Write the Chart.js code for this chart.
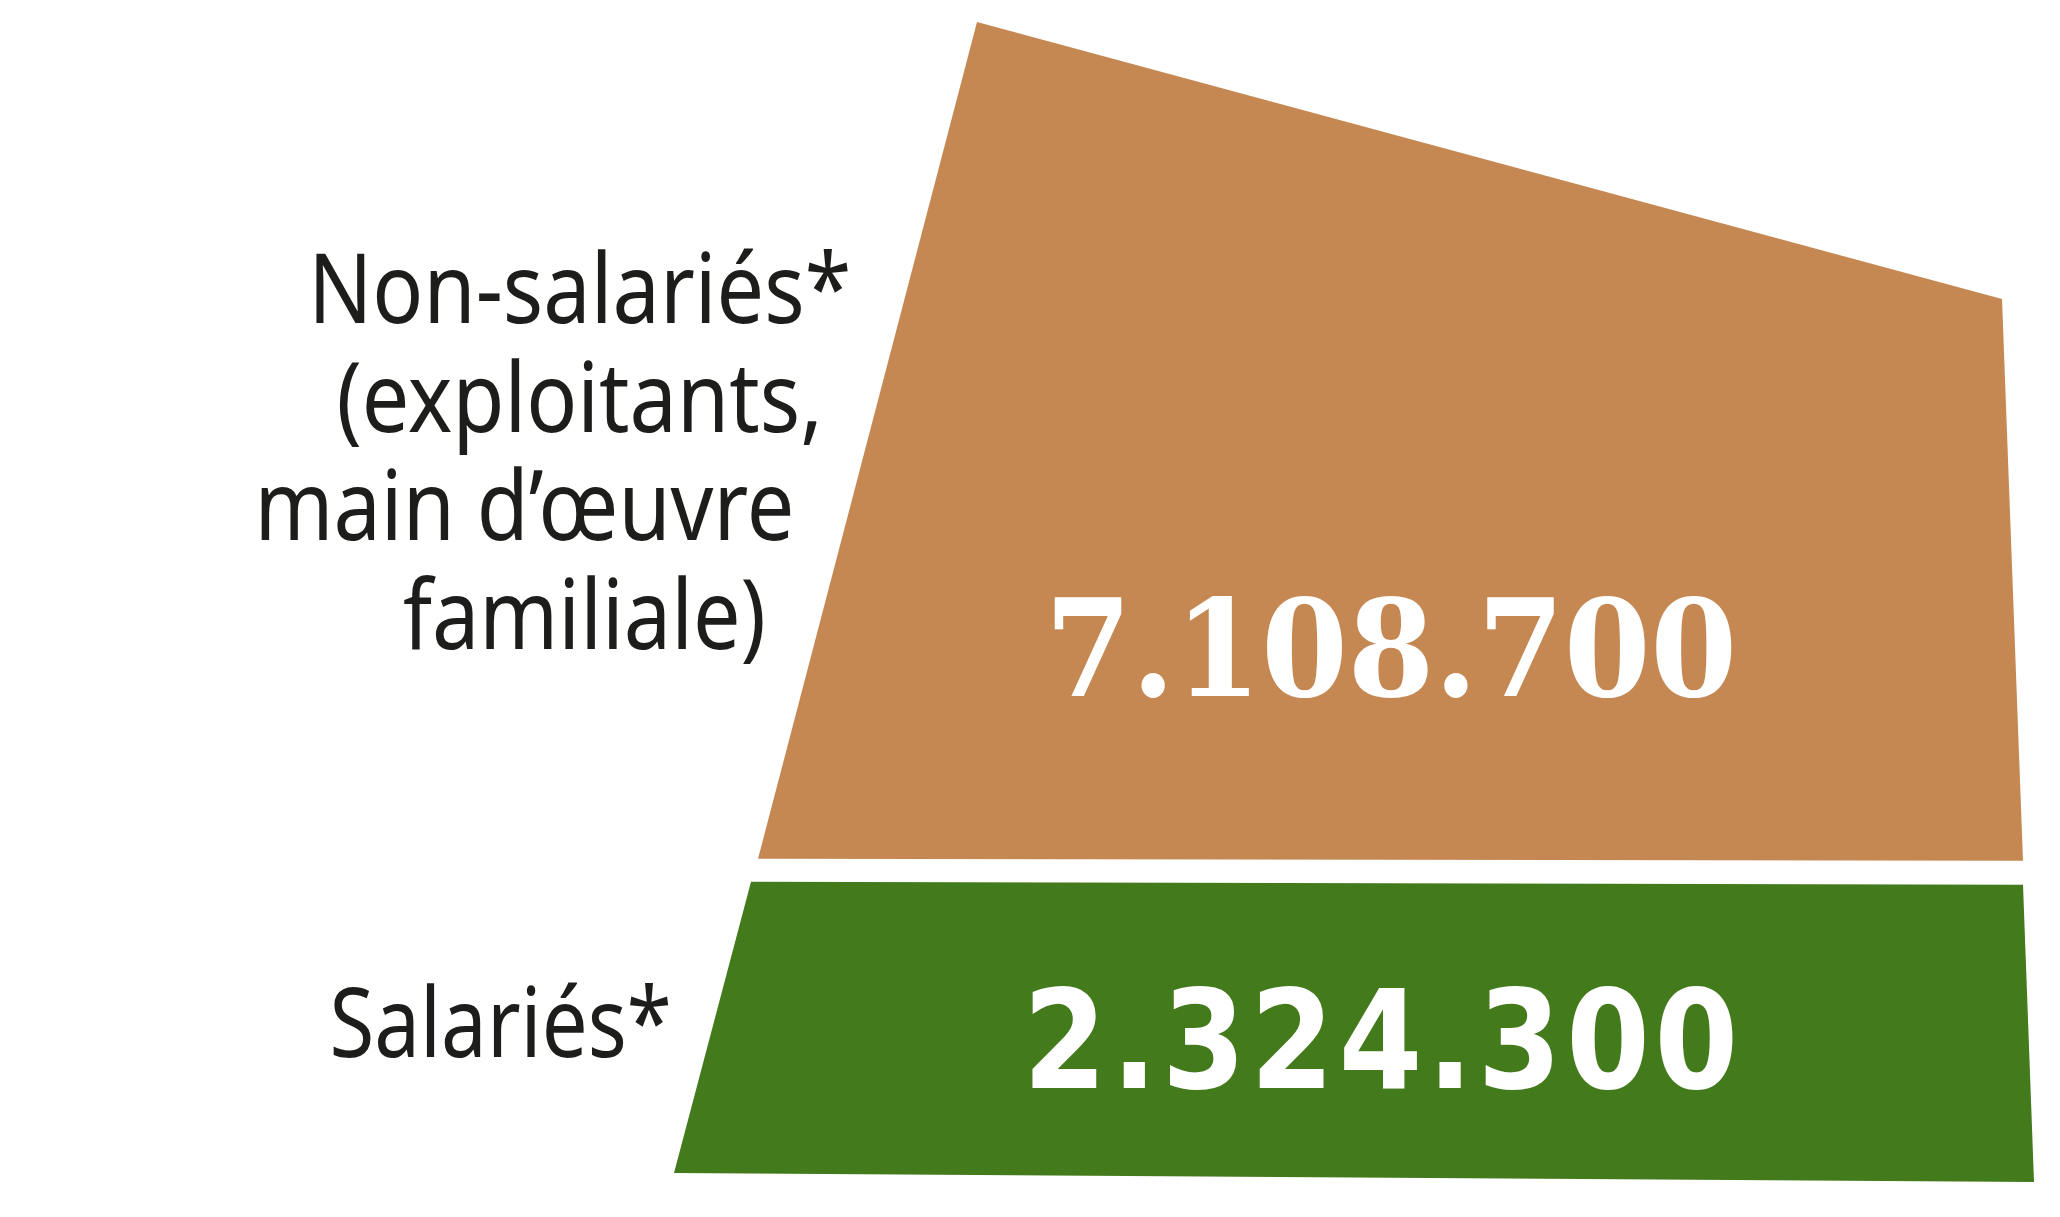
<!DOCTYPE html>
<html>
<head>
<meta charset="utf-8">
<script src="https://cdn.jsdelivr.net/npm/chart.js@4"></script>
<style>
  html, body { margin: 0; padding: 0; background: #fff; }
  canvas { display: block; }
</style>
</head>
<body>
<canvas id="chart" width="2060" height="1217"></canvas>
<script>
// data (bottom block first)
const categories = ['Salariés*', 'Non-salariés*\n(exploitants,\nmain d’œuvre\nfamiliale)'];
const workers = [2324300, 7108700];
const colors = ['#437A1B', '#C68852'];

// how each block is bent out of its bar rectangle: corner offsets [dx, dy] in px
const shapes = [
  { tl: [77, -6], tr: [-11, -3], br: [0, 4], bl: [0, -5],
    labelGap: 33, labelDy: -10, squeeze: 0.85,
    numDx: 29, numDy: 55, numWidth: 720, numSpacing: '5px',
    numFont: "bold 138px 'DejaVu Sans Condensed', 'DejaVu Sans', sans-serif" },
  { tl: [303, 22], tr: [-32, 299], br: [-11, -27], bl: [84, -29],
    labelGap: 47, labelDy: 8, squeeze: 0.88,
    numDx: 37, numDy: 252, numWidth: 692, numSpacing: '0px',
    numFont: "bold 134px 'DejaVu Serif', serif" }
];

const LABEL_FONT = "400 96px 'Noto Sans', sans-serif";
const LINE_HEIGHT = 108.7;
const CAP_HEIGHT = 68;

function fmt(n) {
  return n.toString().replace(/\B(?=(\d{3})+(?!\d))/g, '.');
}

// draws the bars as slanted blocks with their number and name
const trapezoids = {
  id: 'trapezoids',
  beforeDatasetDraw(chart, args) {
    const i = args.index;
    const bar = chart.getDatasetMeta(i).data[0];
    const s = shapes[i];
    const left = bar.x - bar.width / 2;
    const right = bar.x + bar.width / 2;
    const top = Math.min(bar.y, bar.base);
    const bottom = Math.max(bar.y, bar.base);
    const mid = (top + bottom) / 2;

    const pts = [
      [left + s.tl[0], top + s.tl[1]],
      [right + s.tr[0], top + s.tr[1]],
      [right + s.br[0], bottom + s.br[1]],
      [left + s.bl[0], bottom + s.bl[1]]
    ];

    const ctx = chart.ctx;
    ctx.save();
    ctx.fillStyle = chart.data.datasets[i].backgroundColor;
    ctx.beginPath();
    pts.forEach((p, k) => k ? ctx.lineTo(p[0], p[1]) : ctx.moveTo(p[0], p[1]));
    ctx.closePath();
    ctx.fill();

    // value inside the block
    ctx.fillStyle = '#ffffff';
    ctx.font = s.numFont;
    ctx.letterSpacing = s.numSpacing;
    ctx.textAlign = 'center';
    ctx.textBaseline = 'alphabetic';
    ctx.fillText(fmt(chart.data.datasets[i].data[0]), bar.x + s.numDx, mid + s.numDy, s.numWidth);
    ctx.letterSpacing = '0px';

    // name, right aligned along the slanted left edge
    const lines = chart.data.datasets[i].label.split('\n');
    const tl = pts[0], bl = pts[3];
    const edgeX = y => tl[0] + (bl[0] - tl[0]) * (y - tl[1]) / (bl[1] - tl[1]);
    ctx.fillStyle = '#1D1D1B';
    ctx.font = LABEL_FONT;
    ctx.textAlign = 'right';
    const first = mid - (lines.length - 1) * LINE_HEIGHT / 2 + CAP_HEIGHT / 2 + s.labelDy;
    lines.forEach((line, k) => {
      const y = first + k * LINE_HEIGHT;
      ctx.save();
      ctx.translate(edgeX(y) - s.labelGap, y);
      ctx.scale(s.squeeze, 1);
      ctx.fillText(line, 0, 0);
      ctx.restore();
    });

    ctx.restore();
    return false;
  }
};

const total = workers.reduce((a, b) => a + b, 0);

new Chart(document.getElementById('chart').getContext('2d'), {
  type: 'bar',
  data: {
    labels: [''],
    datasets: workers.map((v, i) => ({
      label: categories[i],
      data: [v],
      backgroundColor: colors[i],
      borderWidth: 0,
      barPercentage: 1,
      categoryPercentage: 1
    }))
  },
  options: {
    responsive: false,
    devicePixelRatio: 1,
    animation: false,
    layout: { padding: { left: 674, right: 26, top: 0, bottom: 39 } },
    plugins: { legend: { display: false }, tooltip: { enabled: false } },
    scales: {
      x: { stacked: true, display: false },
      y: { stacked: true, display: false, min: 0, max: total }
    }
  },
  plugins: [trapezoids]
});
</script>
</body>
</html>
